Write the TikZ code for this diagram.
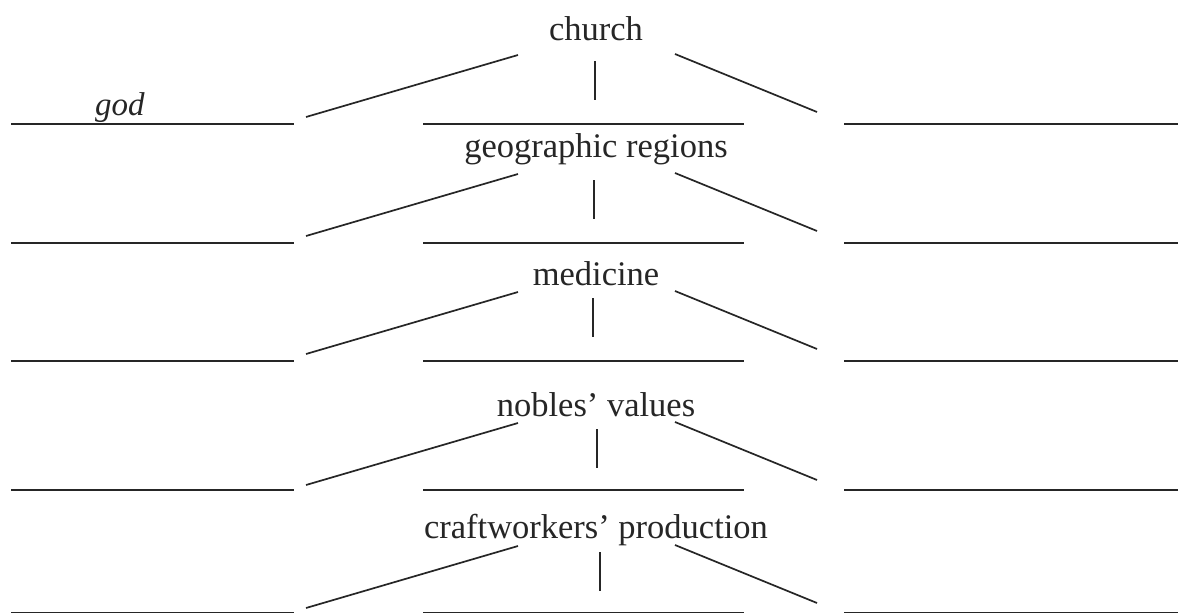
\documentclass[tikz,border=0pt]{standalone}
\usepackage{fontspec}
\setmainfont{Liberation Serif}
\definecolor{ink}{HTML}{262626}
\begin{document}
\begin{tikzpicture}[x=1pt,y=-1pt,
  stroke/.style={line width=1.7pt, draw=ink},
  blank/.style={line width=1.7pt, draw=ink},
  lbl/.style={inner sep=0pt, font=\fontsize{34.5}{40}\selectfont, text=ink}]
\useasboundingbox (0,0) rectangle (1178,613);
\fill[white] (0,0) rectangle (1178,613);

% one row per topic: label, three branches, three blank answer lines
\foreach \i/\txt/\vx/\b/\r/\ly in {
    1/church/595/40/124/124,
    2/geographic regions/594/157/243/243,
    3/medicine/593/285/361/361,
    4/nobles’ values/597/416/492/490,
    5/craftworkers’ production/600/538/615/613.2}{
  \node[lbl, anchor=base] (t\i) at (596,\b) {\txt};
  % branch end points
  \coordinate (lu\i) at (518,\r-69);
  \coordinate (ll\i) at (306,\r-7);
  \coordinate (vt\i) at (\vx,\r-63);
  \coordinate (vb\i) at (\vx,\r-24);
  \coordinate (ru\i) at (675,\r-70);
  \coordinate (rl\i) at (817,\r-12);
  \draw[stroke] (lu\i) -- (ll\i);
  \draw[stroke] (vt\i) -- (vb\i);
  \draw[stroke] (ru\i) -- (rl\i);
  % blank answer lines
  \coordinate (a\i) at (11,\ly);   \coordinate (b\i) at (294,\ly);
  \coordinate (c\i) at (423,\ly);  \coordinate (d\i) at (744,\ly);
  \coordinate (e\i) at (844,\ly);  \coordinate (f\i) at (1178,\ly);
  \draw[blank] (a\i) -- (b\i);
  \draw[blank] (c\i) -- (d\i);
  \draw[blank] (e\i) -- (f\i);
}

% filled-in answer
\node[lbl, anchor=base west, font=\fontsize{33}{40}\selectfont\itshape] (god) at (95,115) {god};
\end{tikzpicture}
\end{document}
